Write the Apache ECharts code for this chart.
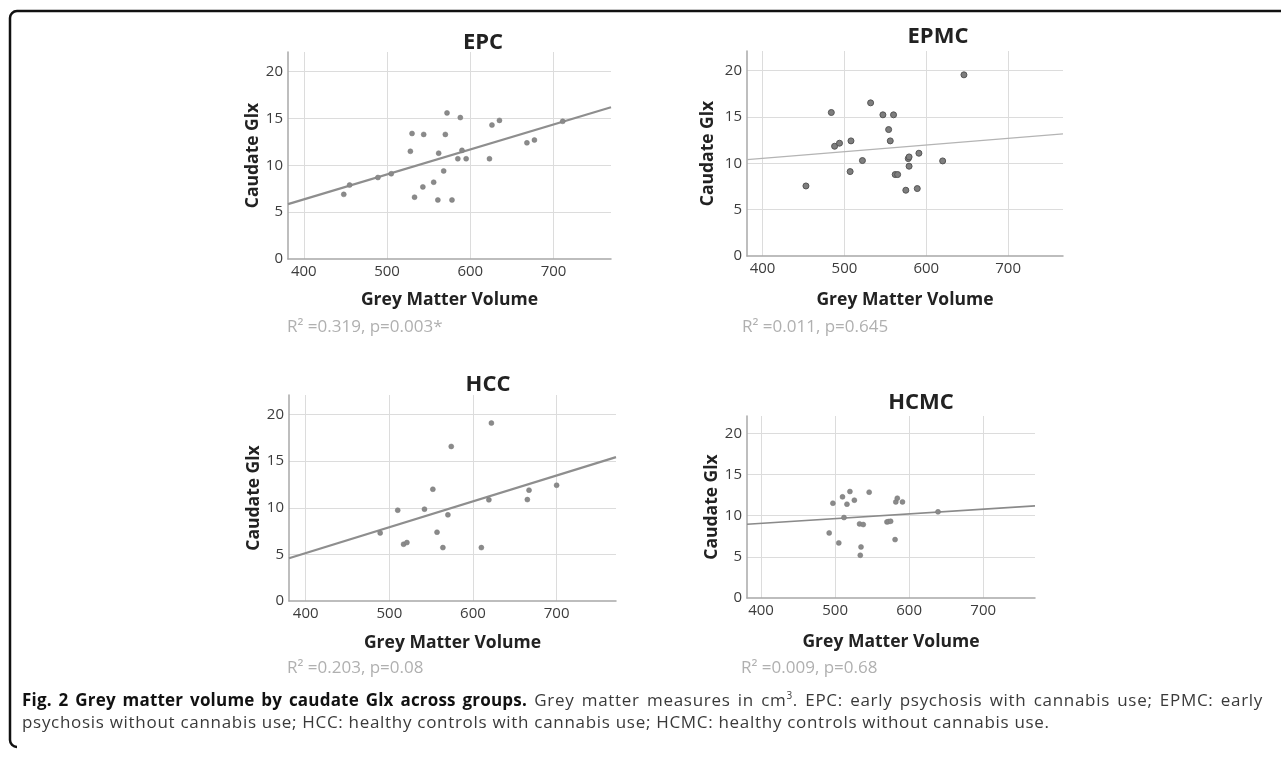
<!DOCTYPE html>
<html>
<head>
<meta charset="utf-8">
<script src="https://cdn.jsdelivr.net/npm/echarts@6/dist/echarts.min.js"></script>
<style>
  html, body { margin: 0; padding: 0; background: #fff; }
  #chart { position: absolute; left: 0; top: 0; width: 1281px; height: 757px; }
  .cap { position: absolute; left: 22px; width: 1241px; font-family: "Open Sans", sans-serif; font-size: 17px; letter-spacing: 0.7px; color: #3a3a3a; white-space: nowrap; line-height: 22px; }
  .cap b { color: #111; letter-spacing: 0.2px; }
  #cap1 { top: 689px; text-align: justify; text-align-last: justify; }
  #cap2 { top: 711px; }
  sup { font-size: 10px; line-height: 0; vertical-align: 7px; }
</style>
</head>
<body>
<div id="chart"></div>
<div class="cap" id="cap1"><b>Fig. 2 Grey matter volume by caudate Glx across groups.</b> Grey matter measures in cm<sup>3</sup>. EPC: early psychosis with cannabis use; EPMC: early</div>
<div class="cap" id="cap2">psychosis without cannabis use; HCC: healthy controls with cannabis use; HCMC: healthy controls without cannabis use.</div>
<script>
// ---- data ----
const panelTitles = ['EPC', 'EPMC', 'HCC', 'HCMC'];
const statTexts = ['R² =0.319, p=0.003*', 'R² =0.011, p=0.645', 'R² =0.203, p=0.08', 'R² =0.009, p=0.68'];
const xAxisTitle = 'Grey Matter Volume';
const yAxisTitle = 'Caudate Glx';

const epcX = [448, 455, 489, 505, 528, 530, 533, 543, 544, 556, 561, 562, 568, 570, 572, 578, 585, 588, 590, 595, 623, 626, 635, 668, 677, 711];
const epcY = [6.9, 7.9, 8.7, 9.1, 11.5, 13.4, 6.6, 7.7, 13.3, 8.2, 6.3, 11.3, 9.4, 13.3, 15.6, 6.3, 10.7, 15.1, 11.6, 10.7, 10.7, 14.3, 14.8, 12.4, 12.7, 14.7];
const epcFitX = [381, 769];
const epcFitY = [5.86, 16.2];

const epmcX = [453, 484, 488, 494, 507, 508, 522, 532, 547, 554, 556, 560, 562, 565, 575, 578, 579, 579, 589, 591, 620, 646];
const epmcY = [7.55, 15.47, 11.83, 12.16, 9.1, 12.41, 10.29, 16.51, 15.22, 13.63, 12.41, 15.22, 8.78, 8.78, 7.09, 10.5, 10.68, 9.68, 7.27, 11.08, 10.25, 19.53];
const epmcFitX = [381, 767];
const epmcFitY = [10.4, 13.17];

const hccX = [489, 510, 517, 521, 542, 552, 557, 564, 570, 574, 610, 619, 622, 665, 667, 700];
const hccY = [7.3, 9.74, 6.09, 6.27, 9.85, 11.99, 7.38, 5.73, 9.24, 16.58, 5.73, 10.85, 19.09, 10.88, 11.89, 12.42];
const hccFitX = [380, 771];
const hccFitY = [4.58, 15.43];

const hcmcX = [492, 497, 505, 510, 512, 516, 520, 526, 533, 535, 534, 538, 546, 570, 572, 575, 581, 582, 584, 591, 639];
const hcmcY = [7.9, 11.51, 6.69, 12.28, 9.77, 11.39, 12.93, 11.88, 9.0, 6.2, 5.19, 8.92, 12.85, 9.24, 9.28, 9.32, 7.09, 11.67, 12.12, 11.67, 10.46];
const hcmcFitX = [381, 770];
const hcmcFitY = [8.96, 11.19];

const xRanges = [[381, 769], [381, 767], [380, 771], [381, 770]];
const yMax = 22.1;

// ---- layout / style ----
const grids = [
  { left: 288, top: 52, width: 323, height: 207 },
  { left: 747, top: 51, width: 316, height: 205 },
  { left: 289, top: 395, width: 327, height: 206 },
  { left: 747, top: 416, width: 288, height: 182 }
];
const xNameGaps = [32, 35, 33, 35];
const yNameGaps = [25, 30, 25, 26];
const titlePos = [[483, 43], [938, 37], [488, 385], [921, 403]];
const statPos = [[287, 327], [742, 327], [287, 668], [741, 668]];

const FONT = '"Open Sans", "Noto Sans", sans-serif';
const zip = (a, b) => a.map((v, i) => [v, b[i]]);

const xAxes = grids.map((g, i) => ({
  type: 'value', gridIndex: i, min: xRanges[i][0], max: xRanges[i][1],
  name: xAxisTitle, nameLocation: 'middle', nameGap: xNameGaps[i],
  nameTextStyle: { fontFamily: FONT, fontSize: 17.5, fontWeight: 'bold', color: '#222' },
  axisLine: { show: true, lineStyle: { color: '#a8a8a8', width: 1.5 } },
  axisTick: { show: false },
  axisLabel: { fontFamily: FONT, fontSize: 15, color: '#3c3c3c', margin: 5, showMinLabel: false, showMaxLabel: false },
  splitLine: { show: true, showMinLine: false, showMaxLine: false, lineStyle: { color: '#dcdcdc', width: 1 } }
}));
const yAxes = grids.map((g, i) => ({
  type: 'value', gridIndex: i, min: 0, max: yMax, interval: 5,
  name: yAxisTitle, nameLocation: 'middle', nameGap: yNameGaps[i], nameRotate: 90,
  nameTextStyle: { fontFamily: FONT, fontSize: 17.5, fontWeight: 'bold', color: '#222' },
  axisLine: { show: true, lineStyle: { color: '#a8a8a8', width: 1.5 } },
  axisTick: { show: false },
  axisLabel: { fontFamily: FONT, fontSize: 15, color: '#3c3c3c', margin: 5, showMaxLabel: false },
  splitLine: { show: true, showMinLine: false, showMaxLine: false, lineStyle: { color: '#dcdcdc', width: 1 } }
}));

const pointData = [zip(epcX, epcY), zip(epmcX, epmcY), zip(hccX, hccY), zip(hcmcX, hcmcY)];
const fitData = [zip(epcFitX, epcFitY), zip(epmcFitX, epmcFitY), zip(hccFitX, hccFitY), zip(hcmcFitX, hcmcFitY)];
const pointStyles = [
  { size: 5, color: '#8a8a8a', border: '#7a7a7a', bw: 0.5 },
  { size: 6, color: '#7e7e7e', border: '#555', bw: 1 },
  { size: 5, color: '#8a8a8a', border: '#7a7a7a', bw: 0.5 },
  { size: 5, color: '#8a8a8a', border: '#7a7a7a', bw: 0.5 }
];
const lineStyles = [
  { color: '#8e8e8e', width: 2.2 },
  { color: '#b4b4b4', width: 1.2 },
  { color: '#8e8e8e', width: 2.2 },
  { color: '#8a8a8a', width: 1.6 }
];

const series = [];
for (let i = 0; i < 4; i++) {
  series.push({
    type: 'line', xAxisIndex: i, yAxisIndex: i, data: fitData[i],
    showSymbol: false, silent: true, lineStyle: lineStyles[i], z: 2
  });
  series.push({
    type: 'scatter', xAxisIndex: i, yAxisIndex: i, data: pointData[i],
    symbolSize: pointStyles[i].size, z: 3,
    itemStyle: { color: pointStyles[i].color, borderColor: pointStyles[i].border, borderWidth: pointStyles[i].bw, opacity: 1 }
  });
}

const graphics = [];
panelTitles.forEach((t, i) => graphics.push({
  type: 'text', x: titlePos[i][0], y: titlePos[i][1],
  style: { text: t, align: 'center', verticalAlign: 'middle', font: 'bold 22px ' + FONT, fill: '#222' }
}));
statTexts.forEach((t, i) => graphics.push({
  type: 'text', x: statPos[i][0], y: statPos[i][1],
  style: { text: t, align: 'left', verticalAlign: 'middle', font: '17px ' + FONT, fill: '#b0b0b0' }
}));
const frameStyle = { stroke: '#111', lineWidth: 2.5, fill: null };
graphics.push({ type: 'polyline', silent: true, shape: { points: [[1282, 11], [17, 11]] }, style: frameStyle });
graphics.push({ type: 'polyline', silent: true, shape: { points: [[10, 18], [10, 740]] }, style: frameStyle });
graphics.push({ type: 'arc', silent: true, shape: { cx: 17, cy: 18, r: 7, startAngle: Math.PI, endAngle: Math.PI * 1.5, clockwise: true }, style: frameStyle });
graphics.push({ type: 'arc', silent: true, shape: { cx: 17, cy: 740, r: 7, startAngle: Math.PI * 0.5, endAngle: Math.PI, clockwise: true }, style: frameStyle });

const chart = echarts.init(document.getElementById('chart'), null, { renderer: 'canvas' });
chart.setOption({
  animation: false,
  backgroundColor: '#fff',
  grid: grids.map(g => Object.assign({ containLabel: false, show: false }, g)),
  xAxis: xAxes,
  yAxis: yAxes,
  series: series,
  graphic: graphics
});
</script>
</body>
</html>
